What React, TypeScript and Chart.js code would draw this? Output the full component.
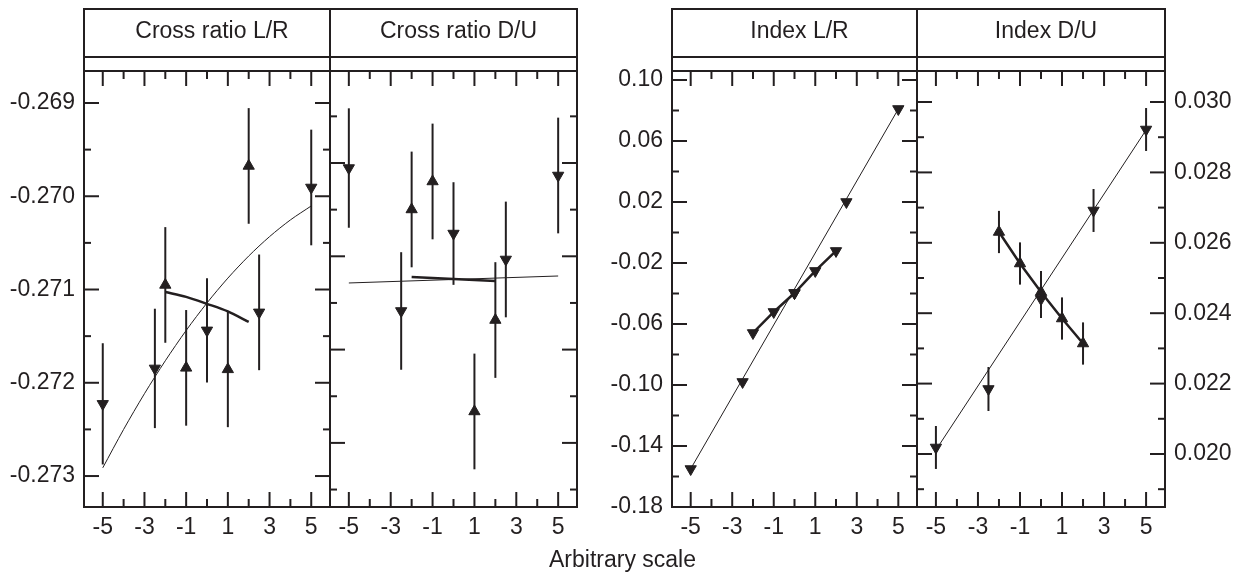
import React, { useEffect, useRef } from 'react';
import { Chart, registerables } from 'chart.js';

Chart.register(...registerables);

const INK = '#231f20';
const FONT_FAMILY = "'Liberation Sans', Arial, Helvetica, sans-serif";
const FONT_SIZE = 23;

// ---------- shared x axis ----------
const xMajorTicks = [-5, -3, -1, 1, 3, 5];
const xMinorTicks = [-4, -2, 0, 2, 4];
const xMin = -5.9;
const xMax = 5.9;
const xTitle = 'Arbitrary scale';

// ---------- Panel 1 : Cross ratio L/R ----------
const crLRTitle = 'Cross ratio L/R';
const crLRYMajor = [-0.273, -0.272, -0.271, -0.27, -0.269];
const crLRYMinor = [-0.2725, -0.2715, -0.2705, -0.2695];
const crLRUpX = [-2, -1, 1, 2];
const crLRUpY = [-0.270951, -0.27184, -0.271856, -0.269675];
const crLRUpErr = [0.00062, 0.00062, 0.00062, 0.00062];
const crLRDownX = [-5, -2.5, 0, 2.5, 5];
const crLRDownY = [-0.272226, -0.271846, -0.271438, -0.271245, -0.269906];
const crLRDownErr = [0.00065, 0.00064, 0.00056, 0.00062, 0.00062];
const crLRFitX = [-5, -4, -3, -2, -1, 0, 1, 2, 3, 4, 5];
const crLRFitY = [-0.272912, -0.2725, -0.272117, -0.271764, -0.271439, -0.271144, -0.270878, -0.270641, -0.270433, -0.270254, -0.270104];
const crLRFit2X = [-2, -1, 0, 1, 2];
const crLRFit2Y = [-0.271026, -0.271079, -0.271154, -0.271235, -0.271347];

// ---------- Panel 2 : Cross ratio D/U ----------
const crDUTitle = 'Cross ratio D/U';
const crDUYMajor = [-0.273, -0.272, -0.271, -0.27];
const crDUYMinor = [-0.2735, -0.2725, -0.2715, -0.2705, -0.2695];
const crDUUpX = [-2, -1, 1, 2];
const crDUUpY = [-0.270498, -0.270198, -0.272663, -0.271683];
const crDUUpErr = [0.00062, 0.00062, 0.00062, 0.00062];
const crDUDownX = [-5, -2.5, 0, 2.5, 5];
const crDUDownY = [-0.270054, -0.271586, -0.270756, -0.271034, -0.270134];
const crDUDownErr = [0.00064, 0.00063, 0.00055, 0.00062, 0.00062];
const crDUFitX = [-5, 5];
const crDUFitY = [-0.271286, -0.271211];
const crDUFit2X = [-2, 0, 2];
const crDUFit2Y = [-0.271222, -0.271243, -0.271265];

// ---------- Panel 3 : Index L/R ----------
const idxLRTitle = 'Index L/R';
const idxLRYMajor = [-0.18, -0.14, -0.1, -0.06, -0.02, 0.02, 0.06, 0.1];
const idxLRYMinor = [-0.16, -0.12, -0.08, -0.04, 0, 0.04, 0.08];
const idxLRWideX = [-5, -2.5, 0, 2.5, 5];
const idxLRWideY = [-0.1551, -0.098, -0.0397, 0.02, 0.081];
const idxLRNarrowX = [-2, -1, 0, 1, 2];
const idxLRNarrowY = [-0.0659, -0.0521, -0.0397, -0.0252, -0.0121];
const idxLRFitX = [-5, 5];
const idxLRFitY = [-0.155, 0.081];

// ---------- Panel 4 : Index D/U ----------
const idxDUTitle = 'Index D/U';
const idxDUYMajor = [0.02, 0.022, 0.024, 0.026, 0.028, 0.03];
const idxDUYMinor = [0.019, 0.021, 0.023, 0.025, 0.027, 0.029];
const idxDUDownX = [-5, -2.5, 0, 2.5, 5];
const idxDUDownY = [0.020185, 0.021847, 0.024403, 0.026918, 0.029219];
const idxDUDownErr = [0.00061, 0.000625, 0.00054, 0.00061, 0.00061];
const idxDUUpX = [-2, -1, 0, 1, 2];
const idxDUUpY = [0.026307, 0.025412, 0.024602, 0.023849, 0.023139];
const idxDUUpErr = [0.0006, 0.0006, 0.0006, 0.0006, 0.0006];
const idxDUFitX = [-5, 5];
const idxDUFitY = [0.020114, 0.029205];

type Kind = 'up' | 'down' | 'thin' | 'thick';
interface Series { x: number[]; y: number[]; err?: number[]; kind: Kind; smooth?: boolean }
interface Panel {
  title: string;
  left: number;
  right: number;
  yMin: number;
  yMax: number;
  yMajor: number[];
  yMinor: number[];
  yLabels: 'left' | 'right' | null;
  yDigits: number;
  series: Series[];
}

const PLOT_TOP = 71;
const PLOT_BOTTOM = 507;
const W = 1241;
const H = 574;

const panels: Panel[] = [
  {
    title: crLRTitle, left: 84, right: 330, yMin: -0.273332, yMax: -0.268657,
    yMajor: crLRYMajor, yMinor: crLRYMinor, yLabels: 'left', yDigits: 3,
    series: [
      { x: crLRUpX, y: crLRUpY, err: crLRUpErr, kind: 'up' },
      { x: crLRDownX, y: crLRDownY, err: crLRDownErr, kind: 'down' },
      { x: crLRFit2X, y: crLRFit2Y, kind: 'thick', smooth: true },
      { x: crLRFitX, y: crLRFitY, kind: 'thin', smooth: true },
    ],
  },
  {
    title: crDUTitle, left: 330, right: 577, yMin: -0.273687, yMax: -0.269014,
    yMajor: crDUYMajor, yMinor: crDUYMinor, yLabels: null, yDigits: 3,
    series: [
      { x: crDUUpX, y: crDUUpY, err: crDUUpErr, kind: 'up' },
      { x: crDUDownX, y: crDUDownY, err: crDUDownErr, kind: 'down' },
      { x: crDUFit2X, y: crDUFit2Y, kind: 'thick', smooth: true },
      { x: crDUFitX, y: crDUFitY, kind: 'thin' },
    ],
  },
  {
    title: idxLRTitle, left: 672, right: 917, yMin: -0.18, yMax: 0.1059,
    yMajor: idxLRYMajor, yMinor: idxLRYMinor, yLabels: 'left', yDigits: 2,
    series: [
      { x: idxLRWideX, y: idxLRWideY, kind: 'down' },
      { x: idxLRNarrowX, y: idxLRNarrowY, kind: 'down' },
      { x: idxLRNarrowX, y: idxLRNarrowY, kind: 'thick' },
      { x: idxLRFitX, y: idxLRFitY, kind: 'thin' },
    ],
  },
  {
    title: idxDUTitle, left: 917, right: 1165, yMin: 0.018494, yMax: 0.030881,
    yMajor: idxDUYMajor, yMinor: idxDUYMinor, yLabels: 'right', yDigits: 3,
    series: [
      { x: idxDUUpX, y: idxDUUpY, err: idxDUUpErr, kind: 'up' },
      { x: idxDUDownX, y: idxDUDownY, err: idxDUDownErr, kind: 'down' },
      { x: idxDUUpX, y: idxDUUpY, kind: 'thick' },
      { x: idxDUFitX, y: idxDUFitY, kind: 'thin' },
    ],
  },
];

function buildDatasets(panel: Panel) {
  return panel.series.map((s) => {
    const data = s.x.map((x, i) => ({ x, y: s.y[i] }));
    if (s.kind === 'up' || s.kind === 'down') {
      return {
        data,
        showLine: false,
        pointStyle: 'triangle',
        rotation: s.kind === 'down' ? 180 : 0,
        pointRadius: 6.5,
        pointHoverRadius: 6.5,
        pointBackgroundColor: INK,
        pointBorderColor: INK,
        pointBorderWidth: 1,
      };
    }
    return {
      data,
      showLine: true,
      borderColor: INK,
      borderWidth: s.kind === 'thin' ? 1 : 2.5,
      pointRadius: 0,
      pointHoverRadius: 0,
      tension: s.smooth ? 0.3 : 0,
      fill: false,
    };
  });
}

function line(ctx: CanvasRenderingContext2D, x1: number, y1: number, x2: number, y2: number) {
  ctx.beginPath();
  ctx.moveTo(x1, y1);
  ctx.lineTo(x2, y2);
  ctx.stroke();
}

function framePlugin(panel: Panel) {
  return {
    id: 'panelFrame',
    beforeDatasetsDraw(chart: any) {
      const ctx: CanvasRenderingContext2D = chart.ctx;
      const xs = chart.scales.x;
      const ys = chart.scales.y;
      ctx.save();
      ctx.strokeStyle = INK;
      ctx.lineWidth = 2;
      panel.series.forEach((s) => {
        if (!s.err) return;
        s.x.forEach((x, i) => {
          const px = xs.getPixelForValue(x);
          line(ctx, px, ys.getPixelForValue(s.y[i] - s.err![i]), px, ys.getPixelForValue(s.y[i] + s.err![i]));
        });
      });
      ctx.restore();
    },
    afterDraw(chart: any) {
      const ctx: CanvasRenderingContext2D = chart.ctx;
      const { left, right, top, bottom } = chart.chartArea;
      const xs = chart.scales.x;
      const ys = chart.scales.y;
      ctx.save();
      ctx.strokeStyle = INK;
      ctx.lineWidth = 2;
      ctx.lineCap = 'butt';
      // frame + title strip
      ctx.strokeRect(left, 9, right - left, bottom - 9);
      line(ctx, left, 57, right, 57);
      line(ctx, left, top, right, top);
      // x ticks (bottom and top, inward)
      xMajorTicks.forEach((v) => {
        const px = xs.getPixelForValue(v);
        line(ctx, px, bottom, px, bottom - 15);
        line(ctx, px, top, px, top + 15);
      });
      xMinorTicks.forEach((v) => {
        const px = xs.getPixelForValue(v);
        line(ctx, px, bottom, px, bottom - 8);
        line(ctx, px, top, px, top + 8);
      });
      // y ticks (left and right, inward)
      panel.yMajor.forEach((v) => {
        const py = ys.getPixelForValue(v);
        line(ctx, left, py, left + 15, py);
        line(ctx, right, py, right - 15, py);
      });
      panel.yMinor.forEach((v) => {
        const py = ys.getPixelForValue(v);
        line(ctx, left, py, left + 7, py);
        line(ctx, right, py, right - 7, py);
      });
      // title
      ctx.fillStyle = INK;
      ctx.font = `${FONT_SIZE}px ${FONT_FAMILY}`;
      ctx.textAlign = 'center';
      ctx.textBaseline = 'alphabetic';
      ctx.fillText(panel.title, (left + right) / 2 + 5, 38);
      ctx.restore();
    },
  };
}

function makeConfig(panel: Panel): any {
  const yW = panel.yLabels === 'left' ? 84 : panel.yLabels === 'right' ? 76 : 0;
  const padLeft = panel.yLabels === 'left' ? panel.left - yW : panel.left;
  const padRight = panel.yLabels === 'right' ? W - panel.right - yW : W - panel.right;
  const tickFont = { family: FONT_FAMILY, size: FONT_SIZE };
  return {
    type: 'scatter',
    data: { datasets: buildDatasets(panel) },
    options: {
      animation: false,
      responsive: false,
      maintainAspectRatio: false,
      events: [],
      layout: { padding: { left: padLeft, right: padRight, top: PLOT_TOP, bottom: H - PLOT_BOTTOM - 40 } },
      plugins: { legend: { display: false }, tooltip: { enabled: false }, title: { display: false } },
      scales: {
        x: {
          type: 'linear',
          position: 'bottom',
          min: xMin,
          max: xMax,
          grid: { display: false, drawTicks: false },
          border: { display: false },
          ticks: {
            font: tickFont,
            color: INK,
            padding: 7,
            maxRotation: 0,
            autoSkip: false,
            callback: (v: number) => String(v),
          },
          afterBuildTicks: (s: any) => {
            s.ticks = xMajorTicks.map((v) => ({ value: v }));
          },
          afterFit: (s: any) => {
            s.height = 40;
          },
        },
        y: {
          type: 'linear',
          position: panel.yLabels === 'right' ? 'right' : 'left',
          display: panel.yLabels !== null,
          min: panel.yMin,
          max: panel.yMax,
          grid: { display: false, drawTicks: false },
          border: { display: false },
          ticks: {
            font: tickFont,
            color: INK,
            padding: 9,
            autoSkip: false,
            callback: (v: number) => Number(v).toFixed(panel.yDigits),
          },
          afterBuildTicks: (s: any) => {
            s.ticks = panel.yMajor.map((v) => ({ value: v }));
          },
          afterFit: (s: any) => {
            if (panel.yLabels !== null) s.width = yW;
          },
        },
      },
    },
    plugins: [framePlugin(panel)],
  };
}

function PanelChart({ panel }: { panel: Panel }) {
  const ref = useRef<HTMLCanvasElement>(null);
  useEffect(() => {
    const chart = new Chart(ref.current as HTMLCanvasElement, makeConfig(panel));
    return () => chart.destroy();
  }, [panel]);
  return (
    <canvas
      ref={ref}
      width={W}
      height={H}
      style={{ position: 'absolute', left: 0, top: 0, width: W, height: H }}
    />
  );
}

export default function App() {
  return (
    <div style={{ position: 'absolute', left: 0, top: 0, width: W, height: H, background: '#fff' }}>
      {panels.map((p) => (
        <PanelChart key={p.title} panel={p} />
      ))}
      <div
        style={{
          position: 'absolute',
          left: 0,
          width: 1245,
          top: 548,
          textAlign: 'center',
          fontFamily: FONT_FAMILY,
          fontSize: FONT_SIZE,
          lineHeight: `${FONT_SIZE}px`,
          color: INK,
          whiteSpace: 'nowrap',
        }}
      >
        {xTitle}
      </div>
    </div>
  );
}
